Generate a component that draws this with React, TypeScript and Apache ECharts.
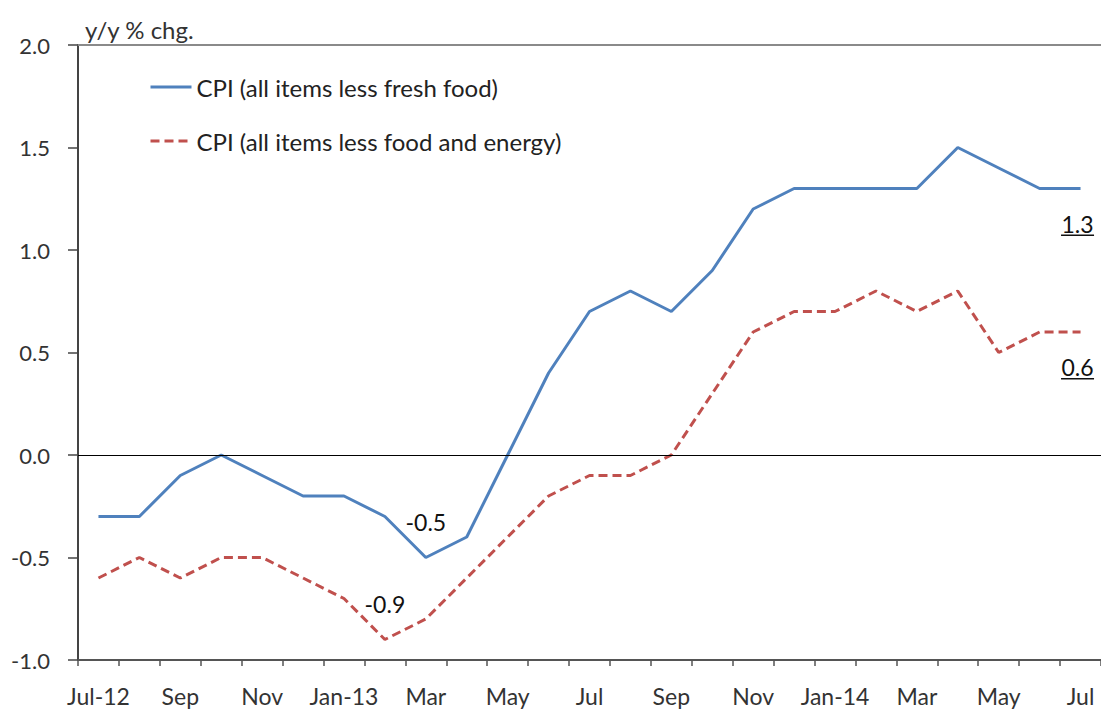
import React, { useEffect, useRef } from "react";
import * as echarts from "echarts";

const months = [
  "Jul-12", "Aug", "Sep", "Oct", "Nov", "Dec",
  "Jan-13", "Feb", "Mar", "Apr", "May", "Jun",
  "Jul", "Aug", "Sep", "Oct", "Nov", "Dec",
  "Jan-14", "Feb", "Mar", "Apr", "May", "Jun", "Jul",
];

const lessFreshFood = [
  -0.3, -0.3, -0.1, 0.0, -0.1, -0.2,
  -0.2, -0.3, -0.5, -0.4, 0.0, 0.4,
  0.7, 0.8, 0.7, 0.9, 1.2, 1.3,
  1.3, 1.3, 1.3, 1.5, 1.4, 1.3, 1.3,
];

const lessFoodEnergy = [
  -0.6, -0.5, -0.6, -0.5, -0.5, -0.6,
  -0.7, -0.9, -0.8, -0.6, -0.4, -0.2,
  -0.1, -0.1, 0.0, 0.3, 0.6, 0.7,
  0.7, 0.8, 0.7, 0.8, 0.5, 0.6, 0.6,
];

const seriesNames = [
  "CPI (all items less fresh food)",
  "CPI (all items less food and energy)",
];

// indices of annotated points: [trough, last]
const freshFoodMarks = [8, 24];
const foodEnergyMarks = [7, 24];

const yTicks = { min: -1, max: 2, interval: 0.5 };
const FONT = "Lato, 'Noto Sans', sans-serif";

function marks(values: number[], idx: number[]) {
  const [trough, last] = idx;
  return {
    silent: true,
    symbol: "circle",
    symbolSize: 0,
    data: [
      {
        coord: [trough, values[trough]],
        value: values[trough],
        label: {
          show: true,
          position: "top",
          distance: 24,
          formatter: (p: any) => Number(p.value).toFixed(1),
          fontSize: 23,
          fontFamily: FONT,
          color: "#111",
        },
      },
      {
        coord: [last, values[last]],
        value: values[last],
        label: {
          show: true,
          position: "bottom",
          distance: 24,
          offset: [-3, 0],
          formatter: (p: any) => `{v|${Number(p.value).toFixed(1)}}\n{u|}`,
          rich: {
            v: { fontSize: 23, fontFamily: FONT, color: "#111", lineHeight: 22 },
            u: { width: 33, height: 1.5, backgroundColor: "#111" },
          },
        },
      },
    ],
  };
}

export default function App() {
  const ref = useRef<HTMLDivElement>(null);
  useEffect(() => {
    if (!ref.current) return;
    const chart = echarts.init(ref.current, null, { renderer: "svg" });
    chart.setOption({
      animation: false,
      backgroundColor: "#fff",
      title: {
        text: "y/y % chg.",
        left: 80,
        top: 12,
        textStyle: { fontSize: 24, fontWeight: "normal", fontFamily: FONT, color: "#333" },
      },
      legend: {
        orient: "vertical",
        left: 144,
        top: 70,
        itemWidth: 41,
        itemHeight: 14,
        itemGap: 30,
        itemStyle: { opacity: 0 },
        lineStyle: { width: 3 },
        textStyle: { fontSize: 24, fontFamily: FONT, color: "#222" },
        data: seriesNames,
      },
      grid: { left: 78, right: 0, top: 45, bottom: 55 },
      xAxis: [
        {
          type: "category",
          data: months,
          boundaryGap: true,
          axisLine: { onZero: false, lineStyle: { color: "#555", width: 2 } },
          axisTick: { show: true, interval: 0, length: 6, lineStyle: { color: "#555", width: 1.5 } },
          axisLabel: {
            interval: 1,
            margin: 24,
            fontSize: 23,
            fontFamily: FONT,
            color: "#333",
          },
          splitLine: { show: false },
        },
        {
          type: "category",
          data: months,
          position: "top",
          axisLine: { show: true, onZero: false, lineStyle: { color: "#8a8a8a", width: 2 } },
          axisTick: { show: false },
          axisLabel: { show: false },
        },
      ],
      yAxis: {
        type: "value",
        min: yTicks.min,
        max: yTicks.max,
        interval: yTicks.interval,
        axisLine: { show: true, lineStyle: { color: "#444", width: 2 } },
        axisTick: { show: true, length: 10, lineStyle: { color: "#444", width: 1.5 } },
        axisLabel: {
          margin: 28,
          fontSize: 22,
          fontFamily: FONT,
          color: "#333",
          formatter: (v: number) => v.toFixed(1),
        },
        splitLine: { show: false },
      },
      series: [
        {
          name: seriesNames[0],
          type: "line",
          data: lessFreshFood,
          symbol: "none",
          lineStyle: { color: "#4F81BD", width: 3 },
          itemStyle: { color: "#4F81BD" },
          markPoint: marks(lessFreshFood, freshFoodMarks),
          markLine: {
            silent: true,
            symbol: "none",
            label: { show: false },
            lineStyle: { color: "#000", width: 1, type: "solid" },
            data: [{ yAxis: 0 }],
          },
          z: 3,
        },
        {
          name: seriesNames[1],
          type: "line",
          data: lessFoodEnergy,
          symbol: "none",
          lineStyle: { color: "#C0504D", width: 3, type: [9, 5] },
          itemStyle: { color: "#C0504D" },
          markPoint: marks(lessFoodEnergy, foodEnergyMarks),
          z: 3,
        },
      ],
    });
    return () => chart.dispose();
  }, []);
  return (
    <div
      ref={ref}
      style={{ position: "absolute", left: 0, top: 0, width: 1101, height: 715 }}
    />
  );
}
